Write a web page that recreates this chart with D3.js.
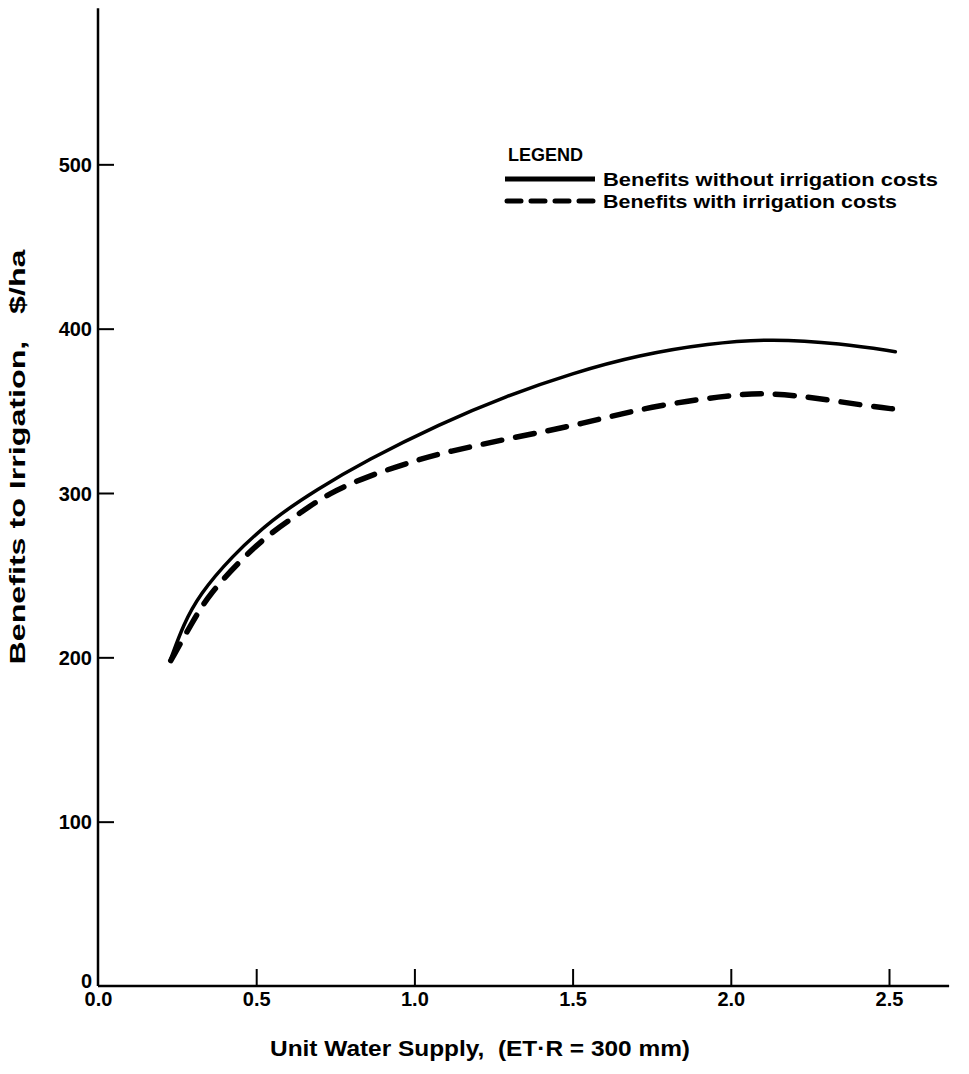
<!DOCTYPE html>
<html><head><meta charset="utf-8">
<script src="https://cdn.jsdelivr.net/npm/d3@7"></script>
<style>
body{margin:0;background:#fff;}
text{font-family:"Liberation Sans",Arial,Helvetica,sans-serif;font-weight:bold;fill:#000;}
</style></head>
<body>
<svg id="c" width="969" height="1074"></svg>
<script>
// Data
const xTicks = [0.0, 0.5, 1.0, 1.5, 2.0, 2.5];
const yTicks = [0, 100, 200, 300, 400, 500];
const withoutX = [0.23, 0.27, 0.32, 0.42, 0.55, 0.69, 0.85, 1.08, 1.29, 1.50, 1.71, 1.93, 2.13, 2.35, 2.52];
const withoutY = [199, 220, 238, 261, 284, 302, 320, 342, 359, 373, 384, 391, 394, 391, 386];
const withX = [0.23, 0.30, 0.35, 0.45, 0.54, 0.64, 0.73, 0.85, 0.99, 1.10, 1.32, 1.53, 1.75, 1.98, 2.09, 2.23, 2.43, 2.52];
const withY = [198, 222, 238, 259, 275, 288, 300, 310, 319, 325, 334, 342, 353, 359, 361, 359, 353, 351];
const legendLabels = ["Benefits without irrigation costs", "Benefits with irrigation costs"];

const svg = d3.select("#c");
const x = d3.scaleLinear().domain([0, 2.5]).range([98, 889]);
const y = d3.scaleLinear().domain([0, 600]).range([986, 0]);

// axes lines
svg.append("line").attr("x1", x(0)).attr("x2", x(2.69)).attr("y1", y(0)).attr("y2", y(0))
  .attr("stroke", "#000").attr("stroke-width", 2.5);
svg.append("line").attr("x1", x(0)).attr("x2", x(0)).attr("y1", y(0)).attr("y2", y(595))
  .attr("stroke", "#000").attr("stroke-width", 2.5);

const ya = svg.append("g").attr("transform", `translate(${x(0)},0)`)
  .call(d3.axisLeft(y).tickValues(yTicks).tickSizeInner(-16).tickSizeOuter(0).tickPadding(6).tickFormat(d3.format("d")));
ya.select(".domain").remove();
ya.selectAll(".tick line").attr("stroke-width", 2).filter(d => d === 0).remove();
ya.selectAll(".tick text").style("font-size", "20px").attr("dy", d => d === 0 ? "0.05em" : "0.36em");

const xa = svg.append("g").attr("transform", `translate(0,${y(0)})`)
  .call(d3.axisBottom(x).tickValues(xTicks).tickSizeInner(-17).tickSizeOuter(0).tickPadding(6).tickFormat(d3.format(".1f")));
xa.select(".domain").remove();
xa.selectAll(".tick line").attr("stroke-width", 2).filter(d => d === 0).remove();
xa.selectAll(".tick text").style("font-size", "20px");

// axis titles
svg.append("text").attr("x", 480).attr("y", 1056).attr("text-anchor", "middle")
  .style("font-size", "22px").attr("textLength", 420).attr("lengthAdjust", "spacingAndGlyphs")
  .text("Unit Water Supply,\u00a0 (ET\u00b7R = 300 mm)");
svg.append("text").attr("transform", "translate(25,457) rotate(-90)").attr("text-anchor", "middle")
  .style("font-size", "22px").attr("textLength", 415).attr("lengthAdjust", "spacingAndGlyphs")
  .text("Benefits to Irrigation,\u00a0\u00a0 $/ha");

// curves
const line = d3.line().x(d => x(d[0])).y(d => y(d[1])).curve(d3.curveBasis);
const solidPts = withoutX.map((v, i) => [v, withoutY[i]]);
const dashPts = withX.map((v, i) => [v, withY[i]]);
svg.append("path").attr("d", line(solidPts)).attr("fill", "none").attr("stroke", "#000")
  .attr("stroke-width", 3.5).attr("stroke-linecap", "round");
svg.append("path").attr("d", line(dashPts)).attr("fill", "none").attr("stroke", "#000")
  .attr("stroke-width", 5.5).attr("stroke-linecap", "round").attr("stroke-dasharray", "19,14");

// legend
svg.append("text").attr("x", 508).attr("y", 161).style("font-size", "18px").text("LEGEND");
svg.append("line").attr("x1", 505).attr("x2", 595).attr("y1", 179).attr("y2", 179)
  .attr("stroke", "#000").attr("stroke-width", 5);
svg.append("line").attr("x1", 507).attr("x2", 593).attr("y1", 201).attr("y2", 201)
  .attr("stroke", "#000").attr("stroke-width", 5).attr("stroke-linecap", "round").attr("stroke-dasharray", "14,10");
svg.append("text").attr("x", 603).attr("y", 186).style("font-size", "18px")
  .attr("textLength", 335).attr("lengthAdjust", "spacingAndGlyphs").text(legendLabels[0]);
svg.append("text").attr("x", 603).attr("y", 208).style("font-size", "18px")
  .attr("textLength", 294).attr("lengthAdjust", "spacingAndGlyphs").text(legendLabels[1]);
</script>
</body></html>
